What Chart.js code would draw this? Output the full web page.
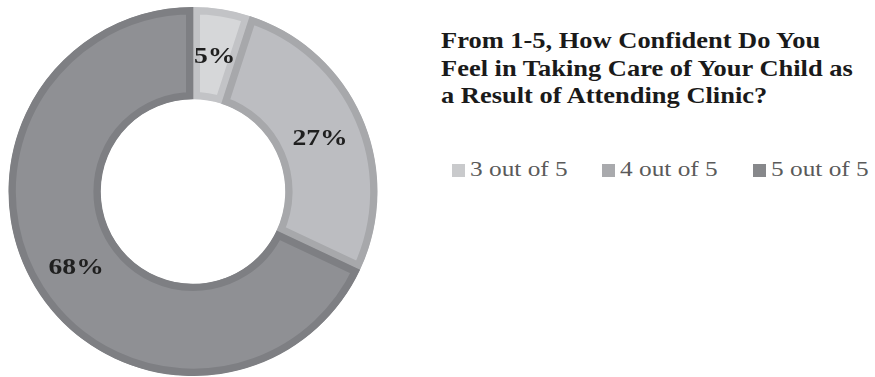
<!DOCTYPE html>
<html>
<head>
<meta charset="utf-8">
<script src="https://cdn.jsdelivr.net/npm/chart.js@4.4.1/dist/chart.umd.min.js"></script>
<style>
  html, body { margin: 0; padding: 0; background: #ffffff; }
  body { width: 875px; height: 377px; position: relative; overflow: hidden; }
  #chartBox { position: absolute; left: 8px; top: 7px; width: 370px; height: 369px; }
  #title { position: absolute; left: 441px; top: 27px; font-family: "Liberation Serif", "Times New Roman", serif;
           font-weight: bold; font-size: 23px; line-height: 27.5px; color: #1a1a1a; white-space: nowrap;
           transform-origin: 0 0; transform: scaleX(1.15); }
  #legend { position: absolute; left: 452px; top: 155px; font-family: "Liberation Serif", "Times New Roman", serif;
            font-size: 22px; color: #5a5a5a; white-space: nowrap; }
  .item { position: absolute; top: 0; height: 28px; }
  .box { position: absolute; left: 0; top: 9px; width: 13px; height: 13px; }
  .lbl { position: absolute; left: 18px; top: 0; line-height: 28px; transform-origin: 0 0; transform: scaleX(1.15); }
</style>
</head>
<body>
<div id="chartBox"><canvas id="c"></canvas></div>
<div id="title"></div>
<div id="legend"></div>
<script>
const titleLines = ["From 1-5, How Confident Do You", "Feel in Taking Care of Your Child as", "a Result of Attending Clinic?"];
const categories = ["3 out of 5", "4 out of 5", "5 out of 5"];
const values = [5, 27, 68];
const fillColors = ["#d6d7d9", "#bcbdc1", "#8f9094"];
const borderColors = ["#c2c3c6", "#a7a8ab", "#7e7f83"];
const legendBoxColors = ["#c9cacc", "#a9aaad", "#87888b"];
const legendX = [0, 150, 301];

document.getElementById('title').innerHTML = titleLines.join('<br>');
const leg = document.getElementById('legend');
categories.forEach((c, i) => {
  const it = document.createElement('div');
  it.className = 'item';
  it.style.left = legendX[i] + 'px';
  it.innerHTML = '<div class="box" style="background:' + legendBoxColors[i] + '"></div><div class="lbl">' + c + '</div>';
  leg.appendChild(it);
});

const pctLabels = {
  id: 'pctLabels',
  afterDatasetsDraw(chart) {
    const ctx = chart.ctx;
    const meta = chart.getDatasetMeta(0);
    const total = values.reduce((a, b) => a + b, 0);
    meta.data.forEach((arc, i) => {
      const p = arc.tooltipPosition();
      const txt = Math.round(values[i] / total * 100) + '%';
      ctx.save();
      ctx.translate(p.x, p.y);
      ctx.scale(1.15, 1);
      ctx.font = 'bold 24px "Liberation Serif", "Times New Roman", serif';
      ctx.fillStyle = '#1f1f1f';
      ctx.textAlign = 'center';
      ctx.textBaseline = 'middle';
      ctx.fillText(txt, 0, 2);
      ctx.restore();
    });
  }
};

new Chart(document.getElementById('c'), {
  type: 'doughnut',
  data: {
    labels: categories,
    datasets: [{
      data: values,
      backgroundColor: fillColors,
      borderColor: borderColors,
      borderWidth: 7,
      borderAlign: 'inner'
    }]
  },
  options: {
    responsive: true,
    maintainAspectRatio: false,
    animation: false,
    cutout: '50%',
    layout: { padding: 0 },
    plugins: { legend: { display: false }, title: { display: false }, tooltip: { enabled: false } }
  },
  plugins: [pctLabels]
});
</script>
</body>
</html>
